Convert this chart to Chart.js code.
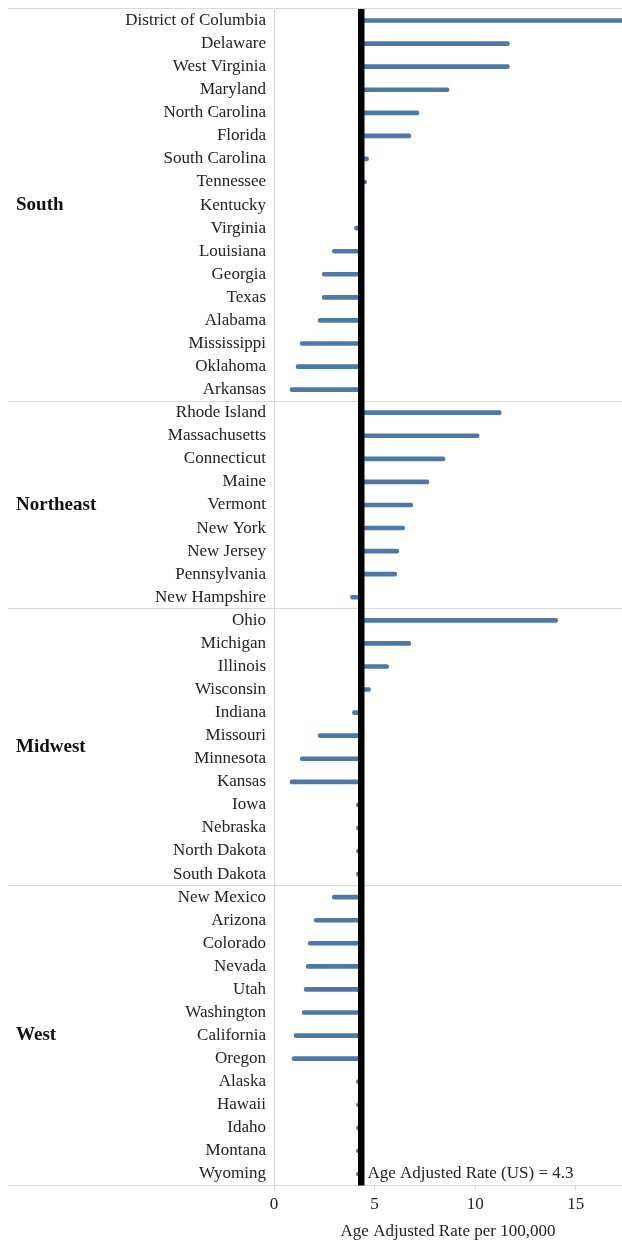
<!DOCTYPE html>
<html>
<head>
<meta charset="utf-8">
<script src="https://cdn.jsdelivr.net/npm/chart.js@4"></script>
<style>
  html, body { margin: 0; padding: 0; background: #fff; }
  #wrap { width: 622px; height: 1242px; }
</style>
</head>
<body>
<div id="wrap"><canvas id="c" width="622" height="1242"></canvas></div>
<script>
// ---- data ----
const groupNames = ['South', 'Northeast', 'Midwest', 'West'];
const southStates = ['District of Columbia','Delaware','West Virginia','Maryland','North Carolina','Florida','South Carolina','Tennessee','Kentucky','Virginia','Louisiana','Georgia','Texas','Alabama','Mississippi','Oklahoma','Arkansas'];
const southValues = [19.5, 11.7, 11.7, 8.7, 7.2, 6.8, 4.7, 4.6, 4.4, 4.0, 2.9, 2.4, 2.4, 2.2, 1.3, 1.1, 0.8];
const northeastStates = ['Rhode Island','Massachusetts','Connecticut','Maine','Vermont','New York','New Jersey','Pennsylvania','New Hampshire'];
const northeastValues = [11.3, 10.2, 8.5, 7.7, 6.9, 6.5, 6.2, 6.1, 3.8];
const midwestStates = ['Ohio','Michigan','Illinois','Wisconsin','Indiana','Missouri','Minnesota','Kansas','Iowa','Nebraska','North Dakota','South Dakota'];
const midwestValues = [14.1, 6.8, 5.7, 4.8, 3.9, 2.2, 1.3, 0.8, 4.1, 4.1, 4.1, 4.1];
const westStates = ['New Mexico','Arizona','Colorado','Nevada','Utah','Washington','California','Oregon','Alaska','Hawaii','Idaho','Montana','Wyoming'];
const westValues = [2.9, 2.0, 1.7, 1.6, 1.5, 1.4, 1.0, 0.9, 4.1, 4.1, 4.1, 4.1, 4.1];
const US_RATE = 4.3;
const xTickValues = [0, 5, 10, 15];
const X_MAX = 17.3;
const AXIS_TITLE = 'Age Adjusted Rate per 100,000';
const REF_LABEL = 'Age Adjusted Rate (US) = ' + US_RATE;

// ---- derived ----
const groupStates = [southStates, northeastStates, midwestStates, westStates];
const groupValues = [southValues, northeastValues, midwestValues, westValues];
const states = groupStates.flat();
const values = groupValues.flat();
const boundaries = new Set();
const groupCenters = [];
let acc = 0;
groupStates.forEach(g => {
  boundaries.add(acc);
  groupCenters.push(acc + (g.length - 1) / 2);
  acc += g.length;
});
const floating = values.map(v => [US_RATE, v]);

const FONT = '"Liberation Serif", "Times New Roman", serif';
const TEXT = '#222222';
const LINE = '#d9d9d9';

const noPad = (axis) => { axis.paddingTop = 0; axis.paddingBottom = 0; axis.paddingLeft = 0; axis.paddingRight = 0; };

const refLine = {
  id: 'refLine',
  afterDatasetsDraw(chart) {
    const { ctx, chartArea, scales } = chart;
    const x = scales.x.getPixelForValue(US_RATE);
    ctx.save();
    ctx.fillStyle = '#000000';
    ctx.fillRect(x - 2.5, chartArea.top, 6.5, chartArea.bottom - chartArea.top);
    ctx.font = '17px ' + FONT;
    ctx.fillStyle = TEXT;
    ctx.textAlign = 'left';
    ctx.textBaseline = 'middle';
    ctx.fillText(REF_LABEL, x + 7, scales.y.getPixelForValue(states.length - 1));
    ctx.restore();
  }
};

new Chart(document.getElementById('c'), {
  type: 'bar',
  data: {
    labels: states,
    datasets: [{
      data: floating,
      backgroundColor: '#4e79a7',
      borderWidth: 0,
      barThickness: 4,
      borderRadius: 2,
      borderSkipped: false
    }]
  },
  options: {
    indexAxis: 'y',
    responsive: false,
    devicePixelRatio: 1,
    animation: false,
    layout: { padding: { top: 9, left: 16, right: 0, bottom: 0 } },
    plugins: { legend: { display: false }, tooltip: { enabled: false } },
    scales: {
      x: {
        type: 'linear',
        position: 'bottom',
        min: 0,
        max: X_MAX,
        afterBuildTicks: (axis) => { axis.ticks = xTickValues.map(v => ({ value: v })); },
        afterFit: (axis) => { axis.height = 56.5; noPad(axis); },
        grid: { display: true, drawOnChartArea: false, drawTicks: true, tickLength: 5, color: LINE },
        border: { display: false },
        ticks: { font: { family: FONT, size: 17 }, color: TEXT, padding: 4, maxRotation: 0, autoSkip: false },
        title: { display: true, text: AXIS_TITLE, font: { family: FONT, size: 17 }, color: TEXT, padding: { top: 0, bottom: 0 } }
      },
      y: {
        type: 'category',
        position: 'left',
        weight: 0,
        offset: true,
        afterFit: (axis) => { axis.width = 166; noPad(axis); },
        grid: {
          display: true,
          offset: true,
          drawOnChartArea: true,
          drawTicks: true,
          tickLength: 266,
          color: (c) => (c.type !== 'tick' || boundaries.has(c.index)) ? LINE : 'rgba(0,0,0,0)'
        },
        border: { display: true, color: LINE, width: 1 },
        ticks: { font: { family: FONT, size: 17 }, color: TEXT, padding: -258, autoSkip: false, crossAlign: 'near' }
      },
      g: {
        type: 'linear',
        position: 'left',
        weight: 1,
        offset: false,
        reverse: true,
        bounds: 'data',
        min: -0.5,
        max: states.length - 0.5,
        afterBuildTicks: (axis) => { axis.ticks = groupCenters.map(v => ({ value: v })); },
        afterFit: (axis) => { axis.width = 92; noPad(axis); },
        grid: { display: false },
        border: { display: false },
        ticks: {
          autoSkip: false,
          crossAlign: 'far',
          font: { family: FONT, size: 19, weight: 'bold' },
          color: '#111111',
          callback: (v, i) => groupNames[i]
        }
      }
    }
  },
  plugins: [refLine]
});
</script>
</body>
</html>
